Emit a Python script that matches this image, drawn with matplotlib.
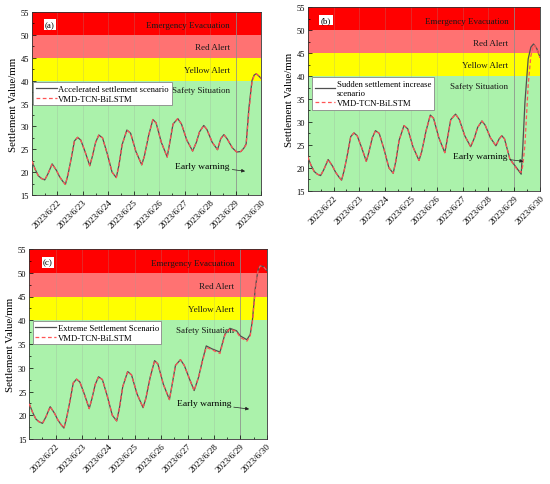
import matplotlib
matplotlib.use("Agg")
import matplotlib.pyplot as plt
from matplotlib.ticker import MultipleLocator, FixedLocator
from matplotlib.transforms import ScaledTranslation

plt.rcParams['font.family'] = ['Liberation Serif', 'DejaVu Serif']

# ---------------- data (x in hours since 2023/6/21 00:00) ----------------
shared_hours = [0, 3, 6, 9, 12, 15, 19, 23, 26, 29, 31.5, 34, 37, 40, 43, 46, 50, 54.5,
                57, 60, 63, 66.5, 71, 75.5, 79.5, 82, 85, 89.5, 93, 98, 103.5, 106, 110,
                114, 117, 122, 127.5, 130, 133, 137.5, 141]
shared_values = [22.4, 20.6, 19.2, 18.6, 18.3, 19.6, 21.8, 20.4, 19.0, 18.0, 17.3, 19.5,
                 23.0, 26.8, 27.6, 27.0, 24.5, 21.4, 23.5, 26.5, 28.1, 27.5, 24.0, 20.0,
                 18.8, 21.5, 26.0, 29.2, 28.5, 24.5, 21.6, 23.5, 28.0, 31.5, 30.8, 26.5,
                 23.3, 26.5, 30.5, 31.7, 30.5]

tail_a_hours = [146, 151.5, 155, 158, 162, 165, 170, 175, 178, 181, 184, 189, 193, 197,
                200, 202, 204.5, 207.5, 209.5, 211.5, 214, 216]
tail_a_actual = [27.0, 24.6, 26.5, 28.8, 30.2, 29.3, 26.5, 24.9, 27.3, 28.2, 27.3, 25.3,
                 24.4, 24.5, 25.3, 26.2, 33.8, 40.0, 41.2, 41.5, 41.0, 40.5]
tail_a_pred = [27.0, 24.6, 26.5, 28.8, 30.2, 29.3, 26.5, 24.9, 27.3, 28.2, 27.3, 25.3,
               24.4, 24.5, 25.3, 26.0, 33.0, 39.6, 41.1, 41.5, 41.0, 40.5]

tail_b_hours = [146, 151.5, 155, 158, 162, 165, 170, 175, 178, 180.5, 183, 188, 194.5,
                198.5, 200, 202, 205, 207.5, 210, 213, 216]
tail_b_actual = [27.0, 24.6, 26.5, 28.8, 30.2, 29.3, 26.5, 24.8, 26.3, 27.0, 26.3, 21.9,
                 19.9, 18.6, 24.5, 34.3, 43.7, 46.3, 47.0, 46.0, 44.1]
tail_b_pred = [27.0, 24.6, 26.5, 28.8, 30.2, 29.3, 26.5, 24.8, 26.3, 27.0, 26.3, 21.9,
               19.7, 19.0, 20.5, 25.0, 38.0, 44.4, 46.8, 46.0, 44.0]

tail_c_hours = [146, 150, 154, 157.5, 161, 166, 173.5, 178, 182.5, 188.5, 192, 198, 201,
                203, 205.5, 208, 210, 213, 216]
tail_c_actual = [27.5, 25.2, 28.0, 31.5, 34.6, 34.0, 33.3, 37.1, 38.3, 37.8, 36.7, 35.9,
                 37.0, 40.0, 46.5, 50.5, 51.5, 51.3, 50.5]
tail_c_pred = [27.5, 25.2, 28.0, 31.3, 34.3, 33.8, 33.0, 36.9, 38.2, 37.6, 36.4, 35.6,
               36.7, 39.5, 46.0, 50.3, 51.4, 51.3, 50.5]

scenario_labels = ["Accelerated settlement scenario",
                   "Sudden settlement increase\nscenario",
                   "Extreme Settlement Scenario"]
model_label = "VMD-TCN-BiLSTM"
panel_tags = ["(a)", "(b)", "(c)"]
tick_labels = ["2023/6/22", "2023/6/23", "2023/6/24", "2023/6/25", "2023/6/26",
               "2023/6/27", "2023/6/28", "2023/6/29", "2023/6/30"]
band_limits = [15, 40, 45, 50, 55]
band_names = ["Safety Situation", "Yellow Alert", "Red Alert", "Emergency Evacuation"]
band_colors = ["#abf2ab", "#ffff00", "#ff7272", "#ff0000"]

# ---------------- layout ----------------
fig = plt.figure(figsize=(5.5, 4.85), dpi=100)
W, H = 550, 485
def px_axes(l, r, t, b):
    return fig.add_axes([l / W, (H - b) / H, (r - l) / W, (b - t) / H])

axes = [px_axes(32, 261, 13, 196), px_axes(307.7, 540, 8.3, 191.7),
        px_axes(29.3, 266.7, 250, 440)]
tails = [(tail_a_hours, tail_a_actual, tail_a_pred),
         (tail_b_hours, tail_b_actual, tail_b_pred),
         (tail_c_hours, tail_c_actual, tail_c_pred)]
legend_anchor = [(0.006, 0.618), (0.019, 0.62), (0.014, 0.621)]
label_y = [52.1, 47.3, 42.4, 37.9]
warn_text = [(135, 21.4), (135, 22.6), (134, 22.5)]
warn_tip = [(201, 20.2), (200.5, 21.4), (200, 21.3)]
shift = ScaledTranslation(0.045, -0.03, fig.dpi_scale_trans)

for i, ax in enumerate(axes):
    ax.set_xlim(0, 216)
    ax.set_ylim(15, 55)
    for k in range(4):
        ax.axhspan(band_limits[k], band_limits[k + 1], color=band_colors[k], lw=0, zorder=0)
    for d in range(1, 9):
        if d == 8:
            ax.axvline(24 * d, color="#8c8c8c", lw=0.6, alpha=0.9, zorder=1)
        else:
            ax.axvline(24 * d, color="#9aa09a", lw=0.5, alpha=0.35, zorder=1)
    for k, name in enumerate(band_names):
        ax.text(186.5, label_y[3 - k], name, ha="right", va="center", fontsize=6.5,
                color="#1a1a1a", zorder=3)
    th, ta, tp = tails[i]
    hours = shared_hours + th
    actual = shared_values + ta
    pred = shared_values + tp
    la, = ax.plot(hours, actual, color="#505050", lw=0.9, zorder=4,
                  label=scenario_labels[i])
    lp, = ax.plot(hours, pred, color="#ff5555", lw=0.9, ls=(0, (3, 2)), zorder=5,
                  label=model_label)
    leg = ax.legend(handles=[la, lp], loc="upper left", bbox_to_anchor=legend_anchor[i],
                    borderaxespad=0, fontsize=6.2, frameon=True, fancybox=False,
                    framealpha=1, edgecolor="#888888", handlelength=2.4,
                    handletextpad=0.2, labelspacing=0.25, borderpad=0.3)
    leg.get_frame().set_linewidth(0.6)
    leg.set_zorder(6)
    ax.text(17, 52.2, panel_tags[i], ha="center", va="center", fontsize=6.5,
            bbox=dict(facecolor="white", edgecolor="none", pad=1.0), zorder=6)
    ax.annotate("Early warning", xy=warn_tip[i], xytext=warn_text[i],
                ha="left", va="center", fontsize=6.8, zorder=6,
                arrowprops=dict(arrowstyle="-|>", color="#222222", lw=0.5,
                                mutation_scale=5, shrinkA=0, shrinkB=0))
    ax.set_ylabel("Settlement Value/mm", fontsize=7.8, labelpad=2)
    ax.yaxis.set_major_locator(MultipleLocator(5))
    ax.yaxis.set_minor_locator(MultipleLocator(2.5))
    ax.xaxis.set_major_locator(FixedLocator([24 * d for d in range(1, 10)]))
    ax.xaxis.set_minor_locator(FixedLocator([24 * d + 12 for d in range(0, 9)]))
    ax.set_xticklabels(tick_labels, rotation=45, ha="right", rotation_mode="anchor",
                       fontsize=6.6)
    for lab in ax.get_xticklabels():
        lab.set_transform(lab.get_transform() + shift)
    ax.tick_params(axis="y", which="both", labelsize=6)
    ax.tick_params(axis="both", which="both", direction="in", pad=2)
    ax.tick_params(axis="both", which="major", length=3, width=0.5)
    ax.tick_params(axis="both", which="minor", length=1.5, width=0.5)
    for s in ax.spines.values():
        s.set_linewidth(0.6)
        s.set_color("#333333")

fig.savefig("out.png", dpi=100)
